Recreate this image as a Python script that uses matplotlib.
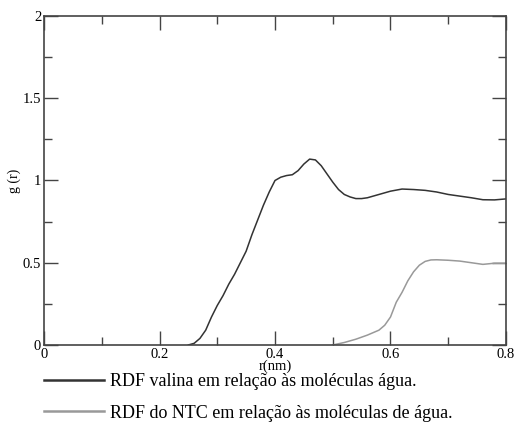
import matplotlib
matplotlib.use("Agg")
import matplotlib.pyplot as plt
from matplotlib.lines import Line2D

plt.rcParams['font.family'] = ['Liberation Serif', 'DejaVu Serif']

# RDF valina x agua
r_val = [0.25, 0.26, 0.27, 0.28, 0.29, 0.30, 0.31, 0.32, 0.33, 0.34, 0.35, 0.36,
         0.37, 0.38, 0.39, 0.40, 0.41, 0.42, 0.43, 0.44, 0.45, 0.46, 0.47, 0.48,
         0.49, 0.50, 0.51, 0.52, 0.53, 0.54, 0.55, 0.56, 0.57, 0.58, 0.59, 0.60,
         0.62, 0.64, 0.66, 0.68, 0.70, 0.72, 0.74, 0.76, 0.78, 0.80]
g_val = [0.00, 0.01, 0.04, 0.09, 0.17, 0.24, 0.30, 0.37, 0.43, 0.50, 0.57, 0.67,
         0.76, 0.85, 0.93, 1.00, 1.02, 1.03, 1.035, 1.06, 1.10, 1.13, 1.125, 1.09,
         1.04, 0.99, 0.945, 0.915, 0.90, 0.89, 0.89, 0.895, 0.905, 0.915, 0.925, 0.935,
         0.948, 0.945, 0.94, 0.93, 0.915, 0.905, 0.895, 0.883, 0.882, 0.888]

# RDF NTC x agua
r_ntc = [0.50, 0.52, 0.54, 0.56, 0.58, 0.59, 0.60, 0.61, 0.62, 0.63, 0.64, 0.65,
         0.66, 0.67, 0.68, 0.70, 0.72, 0.74, 0.76, 0.78, 0.80]
g_ntc = [0.00, 0.015, 0.035, 0.06, 0.09, 0.12, 0.17, 0.26, 0.32, 0.39, 0.445, 0.485,
         0.508, 0.517, 0.518, 0.515, 0.51, 0.50, 0.49, 0.497, 0.497]

LABELS = ['RDF valina em relação às moléculas água.',
          'RDF do NTC em relação às moléculas de água.']
COLORS = ['#333333', '#999999']

fig = plt.figure(figsize=(5.16, 4.28), dpi=100)
ax = fig.add_axes([0.0853, 0.194, 0.8953, 0.7686])

ax.plot(r_val, g_val, color=COLORS[0], lw=1.1)
ax.plot(r_ntc, g_ntc, color=COLORS[1], lw=1.1)

ax.set_xlim(0, 0.8)
ax.set_ylim(0, 2)
ax.set_xticks([0, 0.2, 0.4, 0.6, 0.8])
ax.set_xticklabels(['0', '0.2', '0.4', '0.6', '0.8'])
ax.set_xticks([0.1, 0.3, 0.5, 0.7], minor=True)
ax.set_yticks([0, 0.5, 1, 1.5, 2])
ax.set_yticklabels(['0', '0.5', '1', '1.5', '2'])
ax.set_yticks([0.25, 0.75, 1.25, 1.75], minor=True)
ax.tick_params(which='both', direction='in', top=True, right=True,
               labelsize=10.5, color='#444444', width=1)
ax.tick_params(which='major', length=10, pad=2)
ax.tick_params(which='minor', length=6)
for s in ax.spines.values():
    s.set_color('#444444')
    s.set_linewidth(1.2)

ax.set_xlabel('r(nm)', fontsize=10.5, labelpad=-1)
ax.set_ylabel('g (r)', fontsize=10, labelpad=1)

handles = [Line2D([], [], color=c, lw=1.8) for c in COLORS]
fig.legend(handles, LABELS, loc='upper left', bbox_to_anchor=(0.072, 0.145),
           frameon=False, fontsize=13, handlelength=3.3, handletextpad=0.35,
           labelspacing=0.8, borderaxespad=0)

fig.savefig('out.png', dpi=100)
